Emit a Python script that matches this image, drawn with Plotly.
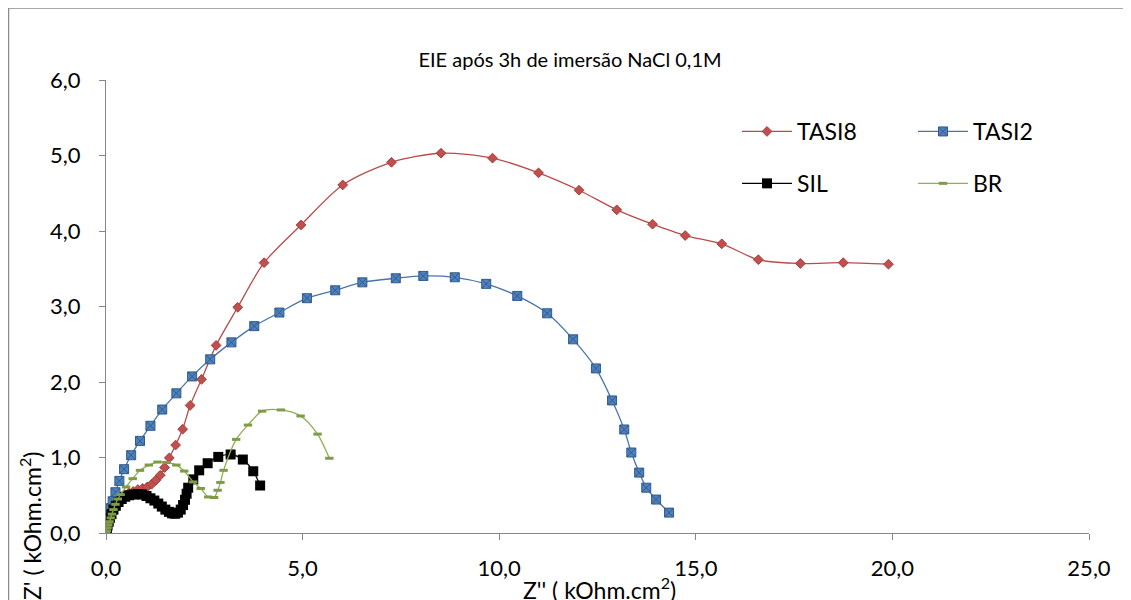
import plotly.graph_objects as go

# ---- data ----
tasi8_x = [0.0, 0.02, 0.05, 0.10, 0.17, 0.26, 0.36, 0.47, 0.58, 0.69, 0.81, 0.93, 1.05, 1.16, 1.27,
           1.38, 1.49, 1.61, 1.77, 1.95, 2.14, 2.43, 2.80, 3.35, 4.02, 4.96, 6.02, 7.26, 8.52, 9.83,
           11.0, 12.03, 12.99, 13.9, 14.73, 15.66, 16.59, 17.66, 18.75, 19.9]
tasi8_y = [0.0, 0.05, 0.12, 0.21, 0.31, 0.40, 0.46, 0.50, 0.53, 0.55, 0.576, 0.59, 0.61, 0.646, 0.70,
           0.765, 0.867, 0.995, 1.165, 1.375, 1.69, 2.035, 2.485, 2.99, 3.58, 4.08, 4.61, 4.91, 5.03, 4.965,
           4.77, 4.54, 4.28, 4.09, 3.94, 3.83, 3.62, 3.57, 3.58, 3.56]

tasi2_x = [0.0, 0.02, 0.05, 0.09, 0.13, 0.17, 0.24, 0.34, 0.46, 0.64, 0.865, 1.13, 1.43, 1.79, 2.19,
           2.65, 3.19, 3.77, 4.41, 5.11, 5.83, 6.52, 7.37, 8.07, 8.87, 9.67, 10.46, 11.22, 11.88, 12.46,
           12.87, 13.18, 13.36, 13.56, 13.74, 13.99, 14.32]
tasi2_y = [0.0, 0.07, 0.16, 0.24, 0.33, 0.42, 0.54, 0.69, 0.845, 1.03, 1.22, 1.42, 1.635, 1.85, 2.074,
           2.30, 2.525, 2.74, 2.92, 3.11, 3.215, 3.32, 3.374, 3.405, 3.387, 3.30, 3.14, 2.91, 2.565, 2.18,
           1.756, 1.371, 1.066, 0.80, 0.60, 0.443, 0.27]

sil_x = [0.0, 0.02, 0.04, 0.07, 0.10, 0.14, 0.19, 0.25, 0.32, 0.40, 0.49, 0.59, 0.70, 0.81, 0.92,
         1.03, 1.13, 1.23, 1.33, 1.42, 1.51, 1.60, 1.68, 1.76, 1.83, 1.90, 1.96, 2.01, 2.05, 2.09,
         2.22, 2.37, 2.585, 2.855, 3.17, 3.48, 3.745, 3.92]
sil_y = [0.0, 0.05, 0.10, 0.15, 0.20, 0.25, 0.31, 0.36, 0.41, 0.45, 0.48, 0.50, 0.51, 0.515, 0.51,
         0.49, 0.46, 0.43, 0.39, 0.35, 0.31, 0.28, 0.26, 0.255, 0.27, 0.31, 0.37, 0.44, 0.52, 0.60,
         0.71, 0.83, 0.924, 1.008, 1.04, 0.973, 0.818, 0.629]

br_x = [0.0, 0.02, 0.04, 0.06, 0.09, 0.12, 0.15, 0.19, 0.24, 0.30, 0.37, 0.51, 0.68, 0.865, 1.09,
        1.31, 1.54, 1.79, 1.99, 2.22, 2.41, 2.60, 2.75, 2.84, 2.91, 2.99, 3.31, 3.61, 3.97, 4.45,
        4.95, 5.38, 5.68]
br_y = [0.0, 0.03, 0.07, 0.11, 0.15, 0.20, 0.25, 0.31, 0.38, 0.45, 0.51, 0.61, 0.72, 0.83, 0.90,
        0.94, 0.934, 0.90, 0.82, 0.676, 0.59, 0.477, 0.47, 0.566, 0.67, 0.83, 1.24, 1.43, 1.614, 1.63,
        1.55, 1.31, 0.99]

title_text = "EIE após 3h de imersão NaCl 0,1M"
x_title = "Z'' ( kOhm.cm<sup>2</sup>)"
y_title = "Z' ( kOhm.cm<sup>2</sup>)"

FONT = "Lato, 'Open Sans', sans-serif"
OFF = 8  # page body margin: figure origin sits at (8, 8) in the page
W, H = 1131 - OFF, 600 - OFF
ML, MR, MT, MB = 106 - OFF, 42, 80 - OFF, 67
PW, PH = W - ML - MR, H - MT - MB


def px2paper_x(px):  # px in page coordinates
    return (px - OFF - ML) / PW


def px2paper_y(py):  # py in page coordinates
    return (H - MB - (py - OFF)) / PH


fig = go.Figure()
fig.add_trace(go.Scatter(
    x=tasi8_x, y=tasi8_y, name="TASI8", mode="lines+markers", legend="legend", legendgroup="a",
    line=dict(color="#B84C49", width=1.3, shape="spline", smoothing=0.8),
    marker=dict(symbol="diamond", size=7.5, color="#C0504D", line=dict(color="#A33E3B", width=1))))
fig.add_trace(go.Scatter(
    x=tasi2_x, y=tasi2_y, name="TASI2", mode="lines+markers", legend="legend2", legendgroup="b",
    line=dict(color="#4A74A8", width=1.3, shape="spline", smoothing=0.8),
    marker=dict(symbol="square-x", size=9, color="#4F81BD", line=dict(color="#2F5A8C", width=1))))
fig.add_trace(go.Scatter(
    x=sil_x, y=sil_y, name="SIL", mode="lines+markers", legend="legend", legendgroup="c",
    line=dict(color="#000000", width=1.3, shape="spline", smoothing=0.8),
    marker=dict(symbol="square", size=10, color="#000000", line=dict(color="#000000", width=0))))
fig.add_trace(go.Scatter(
    x=br_x, y=br_y, name="BR", mode="lines+markers", legend="legend2", legendgroup="d",
    line=dict(color="#8FAF52", width=1.3, shape="spline", smoothing=0.8),
    marker=dict(symbol="line-ew", size=6, color="#7E9C46", line=dict(color="#7E9C46", width=3))))

axis_common = dict(
    showline=True, linecolor="#868686", linewidth=1.3, mirror=False,
    ticks="outside", ticklen=6, tickcolor="#868686", tickwidth=1.3,
    showgrid=False, zeroline=False, tickformat=".1f",
    tickfont=dict(family=FONT, size=22, color="#000000"),
)

legend_common = dict(xanchor="left", yanchor="top", bgcolor="rgba(0,0,0,0)", borderwidth=0,
                     itemwidth=50, traceorder="grouped", tracegroupgap=19,
                     font=dict(family=FONT, size=23, color="#000000"))

fig.update_layout(
    width=W, height=H,
    margin=dict(l=ML, r=MR, t=MT, b=MB, autoexpand=False),
    paper_bgcolor="white", plot_bgcolor="white",
    separators=",.",
    showlegend=True,
    title=dict(text=title_text, x=(570 - OFF) / W, xref="container", xanchor="center",
               y=1 - (60 - OFF) / H, yref="container", yanchor="middle",
               font=dict(family=FONT, size=20, color="#000000")),
    xaxis=dict(range=[0, 25], dtick=5, tick0=0, ticklabelstandoff=9, **axis_common),
    yaxis=dict(range=[0, 6], dtick=1, tick0=0, ticklabelstandoff=14, **axis_common),
    legend=dict(x=px2paper_x(737), y=px2paper_y(110), **legend_common),
    legend2=dict(x=px2paper_x(913), y=px2paper_y(110), **legend_common),
    annotations=[
        dict(text=x_title, x=px2paper_x(599), xref="paper", y=px2paper_y(588), yref="paper",
             xanchor="center", yanchor="middle", showarrow=False,
             font=dict(family=FONT, size=23, color="#000000")),
        dict(text=y_title, x=px2paper_x(30), xref="paper", y=px2paper_y(526), yref="paper",
             xanchor="center", yanchor="middle", showarrow=False, textangle=-90,
             font=dict(family=FONT, size=23, color="#000000")),
    ],
    shapes=[
        dict(type="line", xref="paper", yref="paper", x0=px2paper_x(7), x1=px2paper_x(1140),
             y0=px2paper_y(8), y1=px2paper_y(8), line=dict(color="#8C8C8C", width=1.3)),
        dict(type="line", xref="paper", yref="paper", x0=px2paper_x(8.5), x1=px2paper_x(8.5),
             y0=px2paper_y(8), y1=px2paper_y(610), line=dict(color="#8C8C8C", width=1.5)),
    ],
)

fig.write_html("out.html")
